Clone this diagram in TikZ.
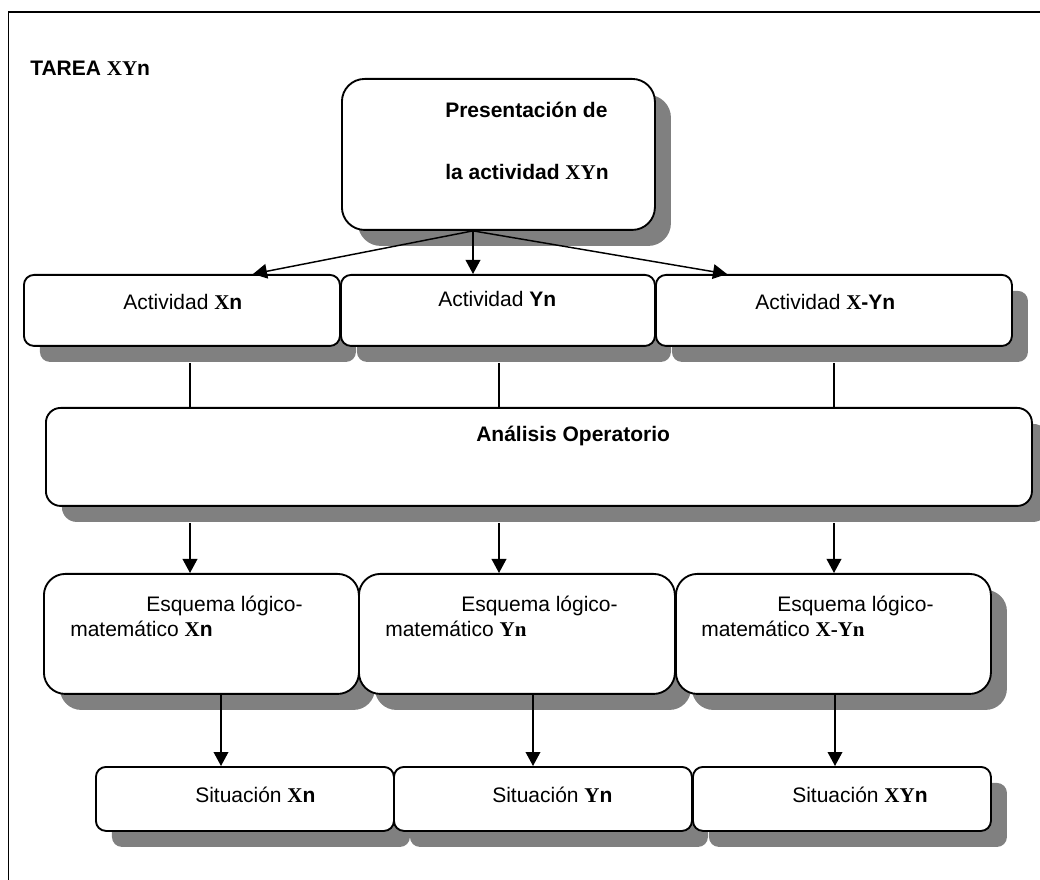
\documentclass[tikz,border=0pt]{standalone}
\usepackage{fontspec}
\setmainfont{Liberation Sans}
\newfontfamily\serifface{Liberation Serif}
\usetikzlibrary{arrows.meta,shadows,calc}
\definecolor{shadowgray}{HTML}{808080}
\newcommand\fsz{\fontsize{15.75pt}{19pt}\selectfont}
\newcommand\srb[1]{{\serifface\bfseries #1}}
\begin{document}
\begin{tikzpicture}[x=0.75pt,y=-0.75pt,
  every node/.style={font=\fsz},
  boxbase/.style={draw=black, line width=1.4pt, fill=white, inner sep=0pt, anchor=north west,
    drop shadow={shadow xshift=12pt, shadow yshift=-12pt, fill=shadowgray, opacity=1}},
  txt/.style={anchor=base west, inner sep=0pt},
  txtb/.style={anchor=base west, inner sep=0pt, font=\fsz\bfseries},
  arr/.style={line width=1.1pt, -{Triangle[length=10.5pt,width=11pt]}},
  link/.style={line width=1.1pt}]
\useasboundingbox (0,0) rectangle (1040,880);
\clip (0,0) rectangle (1040,880);
% frame
\draw[line width=1.2pt] (8.5,895) -- (8.5,12) -- (1055,12);
% boxes
\node[boxbase, rounded corners=17pt, minimum width=234.75pt, minimum height=113.25pt] (pres) at (341,78) {};
\node[boxbase, rounded corners=7.5pt, minimum width=237pt, minimum height=53.25pt] (actX) at (23,274) {};
\node[boxbase, rounded corners=7.5pt, minimum width=235.5pt, minimum height=53.25pt] (actY) at (340,274) {};
\node[boxbase, rounded corners=7.5pt, minimum width=267pt, minimum height=53.25pt] (actXY) at (655,274) {};
\node[boxbase, rounded corners=11pt, minimum width=739.5pt, minimum height=73.5pt] (ana) at (45,407) {};
\node[boxbase, rounded corners=16pt, minimum width=236.25pt, minimum height=90pt] (esqX) at (43,573) {};
\node[boxbase, rounded corners=16pt, minimum width=237pt, minimum height=90pt] (esqY) at (358,573) {};
\node[boxbase, rounded corners=16pt, minimum width=236.25pt, minimum height=90pt] (esqXY) at (675,573) {};
\node[boxbase, rounded corners=7.5pt, minimum width=223.5pt, minimum height=48pt] (sitX) at (95,766) {};
\node[boxbase, rounded corners=7.5pt, minimum width=223.5pt, minimum height=48pt] (sitY) at (393,766) {};
\node[boxbase, rounded corners=7.5pt, minimum width=223.5pt, minimum height=48pt] (sitXY) at (692,766) {};
% connector coordinates
\coordinate (tX) at (253,274);
\coordinate (tY) at (473,274);
\coordinate (tXY) at (727,274);
\coordinate (c1) at (190,0);
\coordinate (c2) at (499,0);
\coordinate (c3) at (834,0);
\coordinate (d1) at (221,0);
\coordinate (d2) at (533,0);
\coordinate (d3) at (835,0);
% connectors
\draw[arr] (pres.south -| tY) -- (tX);
\draw[arr] (pres.south -| tY) -- (tY);
\draw[arr] (pres.south -| tY) -- (tXY);
\draw[link] ([yshift=-12pt]actX.south -| c1) -- (ana.north -| c1);
\draw[link] ([yshift=-12pt]actY.south -| c2) -- (ana.north -| c2);
\draw[link] ([yshift=-12pt]actXY.south -| c3) -- (ana.north -| c3);
\draw[arr] ([yshift=-12pt]ana.south -| c1) -- (esqX.north -| c1);
\draw[arr] ([yshift=-12pt]ana.south -| c2) -- (esqY.north -| c2);
\draw[arr] ([yshift=-12pt]ana.south -| c3) -- (esqXY.north -| c3);
\draw[arr] (esqX.south -| d1) -- (sitX.north -| d1);
\draw[arr] (esqY.south -| d2) -- (sitY.north -| d2);
\draw[arr] (esqXY.south -| d3) -- (sitXY.north -| d3);
% texts
\node[txtb] (tarea) at (30,76) {TAREA \srb{XY}n};
\node[txtb] (pres1) at (445,118) {Presentación de};
\node[txtb] (pres2) at (445,180) {la actividad \srb{XY}n};
\node[txt] (lactX) at (123,310) {Actividad \srb{X}\textbf{n}};
\node[txt] (lactY) at (438,307) {Actividad \textbf{Yn}};
\node[txt] (lactXY) at (755,310) {Actividad \srb{X}\textbf{-Yn}};
\node[txtb] (lana) at (476,442) {Análisis Operatorio};
\node[txt] (le1a) at (146,612) {Esquema lógico-};
\node[txt] (le1b) at (70,637) {matemático \srb{X}\textbf{n}};
\node[txt] (le2a) at (461,612) {Esquema lógico-};
\node[txt] (le2b) at (385,637) {matemático \srb{Yn}};
\node[txt] (le3a) at (777,612) {Esquema lógico-};
\node[txt] (le3b) at (701,637) {matemático \srb{X-Yn}};
\node[txt] (ls1) at (195,802) {Situación \srb{X}\textbf{n}};
\node[txt] (ls2) at (492,802) {Situación \srb{Y}\textbf{n}};
\node[txt] (ls3) at (792,802) {Situación \srb{XY}\textbf{n}};
\end{tikzpicture}
\end{document}
